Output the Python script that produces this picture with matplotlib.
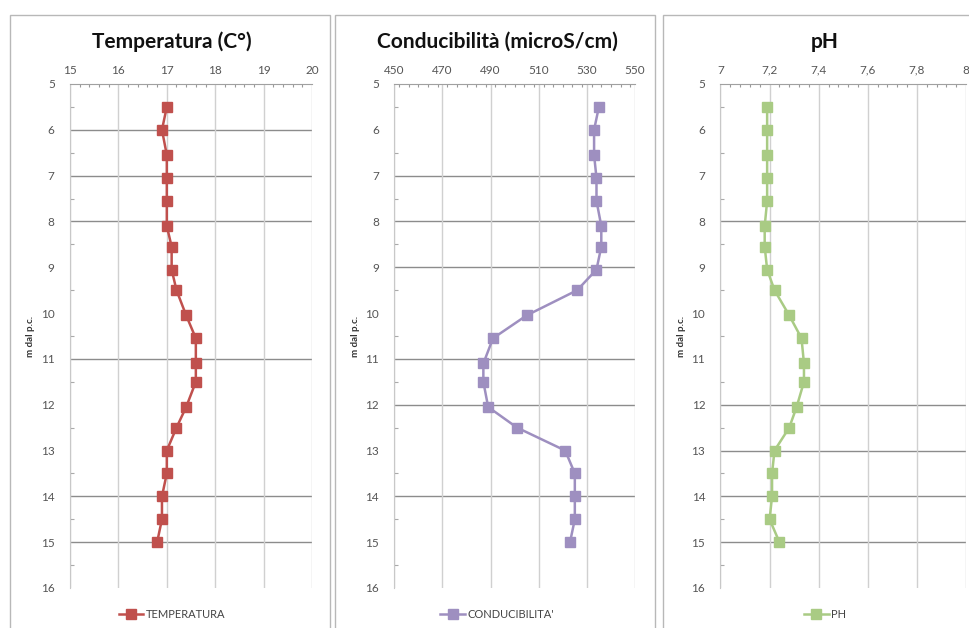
import numpy as np
import matplotlib.pyplot as plt
from matplotlib.patches import Rectangle
from matplotlib.ticker import MultipleLocator

# depth (m dal p.c.) of each reading
depth = [5.5, 6.0, 6.55, 7.05, 7.55, 8.1, 8.55, 9.05, 9.5, 10.05,
         10.55, 11.1, 11.5, 12.05, 12.5, 13.0, 13.5, 14.0, 14.5, 15.0]

temperatura = [17.0, 16.9, 17.0, 17.0, 17.0, 17.0, 17.1, 17.1, 17.2, 17.4,
               17.6, 17.6, 17.6, 17.4, 17.2, 17.0, 17.0, 16.9, 16.9, 16.8]

conducibilita = [535, 533, 533, 534, 534, 536, 536, 534, 526, 505,
                 491, 487, 487, 489, 501, 521, 525, 525, 525, 523]

ph = [7.19, 7.19, 7.19, 7.19, 7.19, 7.18, 7.18, 7.19, 7.22, 7.28,
      7.33, 7.34, 7.34, 7.31, 7.28, 7.22, 7.21, 7.21, 7.20, 7.24]

titles = ['Temperatura (C°)', 'Conducibilità (microS/cm)', 'pH']
labels = ['TEMPERATURA', "CONDUCIBILITA'", 'PH']
colors = ['#C0504D', '#9E8FC0', '#A9CB84']
xlims = [(15, 20), (450, 550), (7, 8)]
xsteps = [1, 20, 0.2]
# horizontal grid lines that show up in each panel
hgrids = [[6, 7, 8, 11, 14, 15], [7, 8, 9, 11, 12, 14], [8, 12, 13, 14, 15]]

W, H = 970, 628
fig = plt.figure(figsize=(W / 100, H / 100), dpi=100)
plt.rcParams['font.family'] = ['Lato', 'DejaVu Sans']

# pixel layout: axes left/right, frame left/right, text centre
boxes = [(70, 312, 10, 330, 172), (394.3, 635, 335, 655, 497), (720.5, 966, 663, 990, 825)]
top, bottom = 84, 588

series = [temperatura, conducibilita, ph]
for i, vals in enumerate(series):
    x0, x1, fx0, fx1, xc = boxes[i]
    fig.patches.append(Rectangle((fx0 / W, -0.05), (fx1 - fx0) / W, 1.05 - 15 / H,
                                 transform=fig.transFigure, fill=False,
                                 edgecolor='#B8B8B8', lw=1.0))
    ax = fig.add_axes([x0 / W, 1 - bottom / H, (x1 - x0) / W, (bottom - top) / H])
    line, = ax.plot(vals, depth, color=colors[i], lw=1.8, marker='s', ms=6.5,
                    label=labels[i], zorder=3)
    ax.set_xlim(*xlims[i])
    ax.set_ylim(16, 5)
    ax.xaxis.tick_top()
    lo, hi = xlims[i]
    ax.set_xticks(np.arange(lo, hi + xsteps[i] / 2, xsteps[i]))
    if i == 2:
        ax.set_xticklabels([f'{v:.1f}'.replace('.', ',').replace(',0', '')
                            for v in np.arange(lo, hi + 0.1, 0.2)])
    ax.xaxis.set_minor_locator(MultipleLocator(xsteps[i] / 5))
    ax.set_yticks(range(5, 17))
    ax.yaxis.set_minor_locator(MultipleLocator(0.5))
    ax.tick_params(axis='x', which='major', length=0, pad=6, labelsize=8.5,
                   labelcolor='#555555')
    ax.tick_params(axis='x', which='minor', length=2.5, direction='in',
                   color='#999999', width=0.8)
    ax.tick_params(axis='y', which='major', length=0, pad=11, labelsize=8.5,
                   labelcolor='#555555')
    ax.tick_params(axis='y', which='minor', length=3, direction='in',
                   color='#AAAAAA', width=0.8)
    for s in ['right', 'bottom']:
        ax.spines[s].set_visible(False)
    ax.spines['top'].set_color('#A0A0A0')
    ax.spines['left'].set_color('#C8C8C8')
    ax.grid(axis='x', color='#D0D0D0', lw=1.0)
    for d in hgrids[i]:
        ax.axhline(d, color='#8C8C8C', lw=1.0, zorder=1)
    ax.set_ylabel('m dal p.c.', fontsize=7, fontweight='bold', color='#333333',
                  labelpad=4)
    fig.text(xc / W, 1 - 42 / H, titles[i], ha='center', va='center',
             fontsize=15, fontweight='bold', color='#111111')
    fig.legend(handles=[line], loc='center',
               bbox_to_anchor=(xc / W, 1 - 614 / H), frameon=False, fontsize=8,
               handlelength=2.2, handletextpad=0.2, labelcolor='#444444')

fig.savefig('out.png', dpi=100)
